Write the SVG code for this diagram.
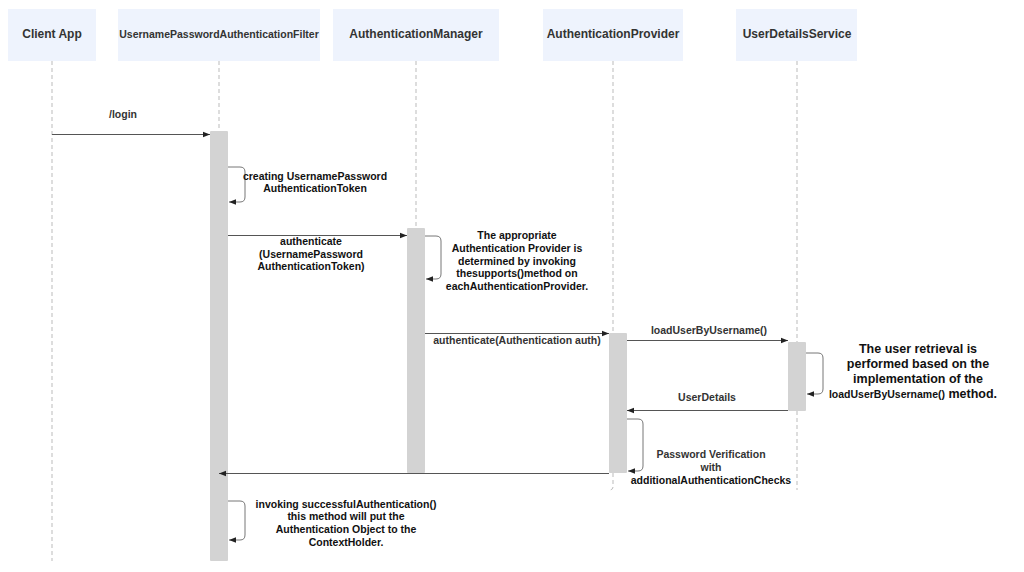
<svg xmlns="http://www.w3.org/2000/svg" width="1024" height="572" viewBox="0 0 1024 572">
<defs>
<style>
.hdr{fill:#eef3fd;}
.ht{font-family:"Liberation Sans",Arial,sans-serif;font-weight:bold;fill:#333;text-anchor:middle;}
.life{stroke:#bbbbbb;stroke-width:1;stroke-dasharray:4,3;fill:none;}
.bar{fill:#d3d3d3;}
.msg{stroke:#555;stroke-width:1;fill:none;}
.self{stroke:#777;stroke-width:1;fill:none;}
.lbl{font-family:"Liberation Sans",Arial,sans-serif;font-weight:bold;font-size:10.5px;fill:#111;text-anchor:middle;}
.lblg{font-family:"Liberation Sans",Arial,sans-serif;font-weight:bold;font-size:10.5px;fill:#333;text-anchor:middle;}
.big{font-family:"Liberation Sans",Arial,sans-serif;font-weight:bold;font-size:12.5px;fill:#111;text-anchor:middle;}
</style>
<marker id="ah" viewBox="0 0 10 10" refX="10" refY="5" markerWidth="7" markerHeight="7" orient="auto-start-reverse" markerUnits="userSpaceOnUse">
<path d="M0,1 L10,5 L0,9 z" fill="#222"/>
</marker>
</defs>
<rect width="1024" height="572" fill="#ffffff"/>

<g id="client">
<rect class="hdr" x="8" y="9" width="88" height="52"/>
<text class="ht" x="52" y="38" font-size="12">Client App</text>
<line class="life" x1="52" y1="61" x2="52" y2="561"/>
</g>

<g id="filter">
<rect class="hdr" x="118" y="9" width="202" height="52"/>
<text class="ht" x="219" y="38" font-size="10.5">UsernamePasswordAuthenticationFilter</text>
<line class="life" x1="219" y1="61" x2="219" y2="131"/>
<rect class="bar" x="210" y="131" width="18" height="430" rx="1"/>
</g>

<g id="manager">
<rect class="hdr" x="333" y="9" width="166" height="52"/>
<text class="ht" x="416" y="38" font-size="12">AuthenticationManager</text>
<line class="life" x1="416" y1="61" x2="416" y2="228"/>
<rect class="bar" x="407" y="228" width="18" height="245" rx="1"/>
</g>

<g id="provider">
<rect class="hdr" x="543" y="9" width="140" height="52"/>
<text class="ht" x="613" y="38" font-size="12">AuthenticationProvider</text>
<line class="life" x1="613" y1="61" x2="613" y2="333"/>
<path class="life" d="M613,473 L613,487 Q613,490 609,490"/>
<rect class="bar" x="609" y="333" width="18" height="140" rx="1"/>
</g>

<g id="uds">
<rect class="hdr" x="736" y="9" width="121" height="52"/>
<text class="ht" x="797" y="38" font-size="12">UserDetailsService</text>
<line class="life" x1="797" y1="61" x2="797" y2="342"/>
<line class="life" x1="797" y1="411" x2="797" y2="490"/>
<rect class="bar" x="788" y="342" width="18" height="69" rx="1"/>
</g>

<g id="connectors">
<line class="msg" x1="52" y1="134.5" x2="210" y2="134.5" marker-end="url(#ah)"/>
<text class="lblg" x="123" y="118">/login</text>

<path class="self" d="M228,167 L240,167 Q245,167 245,172 L245,197 Q245,202 240,202 L229,202" marker-end="url(#ah)"/>
<text class="lbl" x="315" y="180">creating UsernamePassword</text>
<text class="lbl" x="315" y="192">AuthenticationToken</text>

<line class="msg" x1="228" y1="235.5" x2="407" y2="235.5" marker-end="url(#ah)"/>
<text class="lbl" x="311" y="245">authenticate</text>
<text class="lbl" x="311" y="258">(UsernamePassword</text>
<text class="lbl" x="311" y="270">AuthenticationToken)</text>

<path class="self" d="M425,236 L436,236 Q441,236 441,241 L441,274 Q441,279 436,279 L426,279" marker-end="url(#ah)"/>
<text class="lbl" x="517" y="239">The appropriate</text>
<text class="lbl" x="517" y="252">Authentication Provider is</text>
<text class="lbl" x="517" y="265">determined by invoking</text>
<text class="lbl" x="517" y="277">thesupports()method on</text>
<text class="lbl" x="517" y="290">eachAuthenticationProvider.</text>

<line class="msg" x1="425" y1="333.5" x2="609" y2="333.5" marker-end="url(#ah)"/>
<text class="lblg" x="517" y="344">authenticate(Authentication auth)</text>

<line class="msg" x1="627" y1="340.5" x2="788" y2="340.5" marker-end="url(#ah)"/>
<text class="lblg" x="709" y="334">loadUserByUsername()</text>

<path class="self" d="M806,353 L818,353 Q823,353 823,358 L823,389 Q823,394 818,394 L807,394" marker-end="url(#ah)"/>
<text class="big" x="918" y="353">The user retrieval is</text>
<text class="big" x="918" y="368">performed based on the</text>
<text class="big" x="918" y="383">implementation of the</text>
<text class="big" x="913" y="398"><tspan font-size="10.5">loadUserByUsername()</tspan> method.</text>

<line class="msg" x1="788" y1="410.5" x2="627" y2="410.5" marker-end="url(#ah)"/>
<text class="lblg" x="707" y="401">UserDetails</text>

<path class="self" d="M627,419 L638,419 Q643,419 643,424 L643,466 Q643,471 638,471 L628,471" marker-end="url(#ah)"/>
<text class="lblg" x="711" y="458">Password Verification</text>
<text class="lblg" x="711" y="471">with</text>
<text class="lbl" x="711" y="484">additionalAuthenticationChecks</text>

<line class="msg" x1="609" y1="473.5" x2="219" y2="473.5" marker-end="url(#ah)"/>

<path class="self" d="M228,501 L240,501 Q245,501 245,506 L245,535 Q245,540 240,540 L229,540" marker-end="url(#ah)"/>
<text class="lbl" x="346" y="508">invoking successfulAuthentication()</text>
<text class="lbl" x="346" y="520">this method will put the</text>
<text class="lbl" x="346" y="533">Authentication Object to the</text>
<text class="lbl" x="346" y="546">ContextHolder.</text>
</g>
</svg>
